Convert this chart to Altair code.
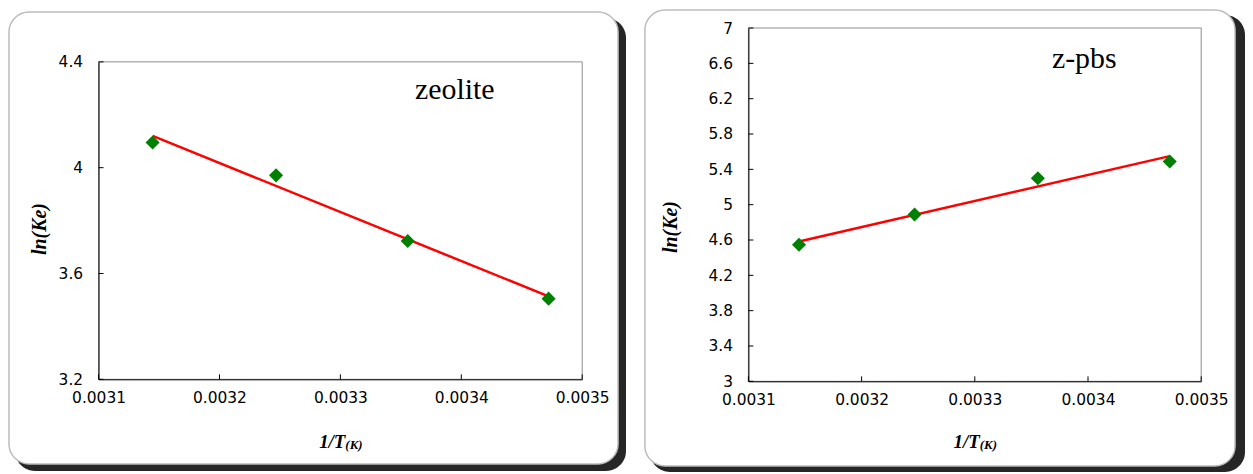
import altair as alt
import pandas as pd

# ---- data ----
inv_T = [0.0031447, 0.0032468, 0.0033557, 0.0034722]
ln_ke_zeolite = [4.095, 3.971, 3.723, 3.505]
ln_ke_zpbs = [4.546, 4.888, 5.300, 5.488]

x_ticks = [0.0031, 0.0032, 0.0033, 0.0034, 0.0035]
y_ticks_zeolite = [3.2, 3.6, 4.0, 4.4]
y_ticks_zpbs = [3.0, 3.4, 3.8, 4.2, 4.6, 5.0, 5.4, 5.8, 6.2, 6.6, 7.0]

panel_labels = ["zeolite", "z-pbs"]
x_title_main = "1/T"
x_title_sub = "(K)"
y_title = "ln(Ke)"

LABEL_FONT = "DejaVu Sans"
SERIF = "Liberation Serif"


def panel(y_vals, y_ticks, label, w, h, ytop, card, shadow, label_pos, ytitle_pos, xtitle_y):
    df = pd.DataFrame({"x": inv_T, "y": y_vals})
    xs = alt.Scale(domain=[x_ticks[0], x_ticks[-1]], nice=False, zero=False)
    ys = alt.Scale(domain=[y_ticks[0], y_ticks[-1]], nice=False, zero=False, range=[h, ytop])

    x_axis = alt.Axis(
        values=x_ticks, format=".4f", title=None, grid=False, ticks=False,
        domainColor="black", domainWidth=1, labelFont=LABEL_FONT, labelFontSize=15.5,
        labelColor="black", labelPadding=11, labelFlush=False, labelOverlap=False, zindex=1)
    y_axis = alt.Axis(
        values=y_ticks, format=".1~f", title=None, grid=False, ticks=False,
        domainColor="black", domainWidth=1, labelFont=LABEL_FONT, labelFontSize=15.5,
        labelColor="black", labelPadding=16, labelOverlap=False, labelFlush=False, zindex=1)

    base1 = alt.Chart(pd.DataFrame({"k": [0]}))

    shadow_l = base1.mark_rect(fill="#262626", cornerRadius=20).encode(
        x=alt.value(shadow[0]), x2=alt.value(shadow[1]),
        y=alt.value(shadow[2]), y2=alt.value(shadow[3]),
    )
    card_l = base1.mark_rect(fill="white", stroke="#bcbcbc", strokeWidth=1.5, cornerRadius=20).encode(
        x=alt.value(card[0]), x2=alt.value(card[1]),
        y=alt.value(card[2]), y2=alt.value(card[3]),
    )
    frame = base1.mark_rect(fill="white", fillOpacity=0, stroke="#8c8c8c", strokeWidth=1).encode(
        x=alt.value(0), x2=alt.value(w), y=alt.value(ytop), y2=alt.value(h)
    )

    yt = alt.Chart(pd.DataFrame({"y": y_ticks})).mark_rule(color="black", strokeWidth=1).encode(
        y=alt.Y("y:Q", scale=ys, axis=y_axis), x=alt.value(0), x2=alt.value(5)
    )
    xt = alt.Chart(pd.DataFrame({"x": x_ticks})).mark_rule(color="black", strokeWidth=1).encode(
        x=alt.X("x:Q", scale=xs, axis=x_axis), y=alt.value(h), y2=alt.value(h - 5)
    )

    fit = alt.Chart(df).transform_regression("x", "y").mark_line(color="#ff0000", strokeWidth=2.5).encode(
        x=alt.X("x:Q", scale=xs, axis=x_axis), y=alt.Y("y:Q", scale=ys, axis=y_axis)
    )

    pts = alt.Chart(df).mark_point(shape="diamond", filled=True, size=200, color="#008000", opacity=1).encode(
        x=alt.X("x:Q", scale=xs, axis=x_axis),
        y=alt.Y("y:Q", scale=ys, axis=y_axis),
    )

    lab = alt.Chart(pd.DataFrame({"label": [label]})).mark_text(
        font=SERIF, fontSize=30, align="left", baseline="alphabetic", color="black"
    ).encode(x=alt.value(label_pos[0]), y=alt.value(label_pos[1]), text="label:N")

    ytl = alt.Chart(pd.DataFrame({"label": [y_title]})).mark_text(
        font=SERIF, fontSize=20, fontWeight="bold", fontStyle="italic", angle=270,
        align="center", baseline="middle", color="black"
    ).encode(x=alt.value(ytitle_pos[0]), y=alt.value(ytitle_pos[1]), text="label:N")

    xtl1 = alt.Chart(pd.DataFrame({"label": [x_title_main]})).mark_text(
        font=SERIF, fontSize=19, fontWeight="bold", fontStyle="italic",
        align="right", baseline="alphabetic", color="black"
    ).encode(x=alt.value(w / 2 + 5), y=alt.value(xtitle_y), text="label:N")
    xtl2 = alt.Chart(pd.DataFrame({"label": [x_title_sub]})).mark_text(
        font=SERIF, fontSize=13, fontWeight="bold", fontStyle="italic",
        align="left", baseline="alphabetic", color="black"
    ).encode(x=alt.value(w / 2 + 5), y=alt.value(xtitle_y + 1), text="label:N")

    return alt.layer(shadow_l, card_l, frame, yt, xt, fit, pts, lab, ytl, xtl1, xtl2).properties(
        width=w, height=h
    )


left = panel(
    ln_ke_zeolite, y_ticks_zeolite, panel_labels[0], 486, 353, 34,
    card=(-90, 522, -16, 438), shadow=(-84, 530, -10, 445),
    label_pos=(318, 71), ytitle_pos=(-59, 202), xtitle_y=422,
)
right = panel(
    ln_ke_zpbs, y_ticks_zpbs, panel_labels[1], 455, 355, 0,
    card=(-104, 489, -18, 440), shadow=(-99, 499, -13, 446),
    label_pos=(305, 40), ytitle_pos=(-78, 200), xtitle_y=422,
)

chart = alt.hconcat(left, right, spacing=18).properties(padding=0).configure_view(strokeWidth=0)

chart.save("out.html", embed_options={"renderer": "svg", "actions": False})
